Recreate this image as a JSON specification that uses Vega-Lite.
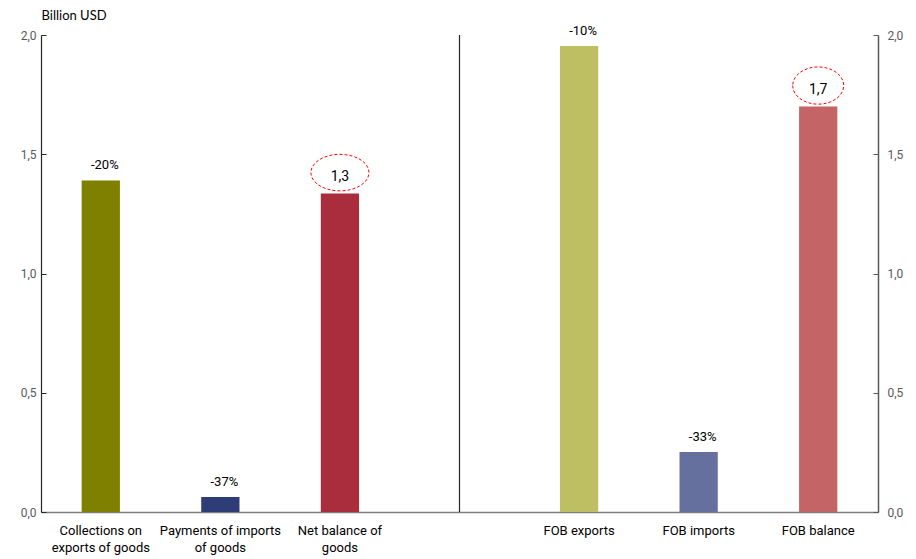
{
  "$schema": "https://vega.github.io/schema/vega-lite/v6.json",
  "width": 837,
  "height": 477,
  "autosize": {"type": "none"},
  "padding": {"left": 41, "top": 35, "right": 38, "bottom": 47},
  "background": "white",
  "data": {
    "values": [
      {"cat": "Collections on exports of goods", "value": 1.39, "label": "-20%", "kind": "pct"},
      {"cat": "Payments of imports of goods", "value": 0.063, "label": "-37%", "kind": "pct"},
      {"cat": "Net balance of goods", "value": 1.335, "label": "1,3", "kind": "val"},
      {"cat": "FOB exports", "value": 1.954, "label": "-10%", "kind": "pct"},
      {"cat": "FOB imports", "value": 0.252, "label": "-33%", "kind": "pct"},
      {"cat": "FOB balance", "value": 1.70, "label": "1,7", "kind": "val"}
    ]
  },
  "config": {
    "view": {"stroke": null},
    "axis": {"grid": false}
  },
  "encoding": {
    "x": {
      "field": "cat",
      "type": "nominal",
      "sort": null,
      "scale": {
        "domain": ["Collections on exports of goods", "Payments of imports of goods", "Net balance of goods", "gap", "FOB exports", "FOB imports", "FOB balance"],
        "paddingInner": 0.68,
        "paddingOuter": 0.34
      },
      "axis": {
        "title": null,
        "labelAngle": 0,
        "ticks": false,
        "domainColor": "#7f7f7f",
        "domainWidth": 1.5,
        "labelColor": "#000000",
        "labelFont": "Roboto",
        "labelFontSize": 13,
        "labelPadding": 18,
        "labelLineHeight": 17,
        "labelBaseline": "middle",
        "labelExpr": "datum.value == 'Collections on exports of goods' ? ['Collections on', 'exports of goods'] : datum.value == 'Payments of imports of goods' ? ['Payments of imports', 'of goods'] : datum.value == 'Net balance of goods' ? ['Net balance of', 'goods'] : datum.value == 'gap' ? '' : datum.value"
      }
    }
  },
  "layer": [
    {
      "mark": {"type": "bar"},
      "encoding": {
        "y": {
          "field": "value",
          "type": "quantitative",
          "scale": {"domain": [0, 2], "nice": false},
          "axis": {
            "orient": "left",
            "values": [0, 0.5, 1, 1.5, 2],
            "labelExpr": "replace(format(datum.value, '.1f'), '.', ',')",
            "domainColor": "#262626",
            "domainWidth": 1.2,
            "tickColor": "#262626",
            "tickSize": -5,
            "labelColor": "#595959",
            "labelFont": "Roboto",
            "labelFontSize": 12,
            "labelPadding": 10,
            "title": "Billion USD",
            "titleAngle": 0,
            "titleAlign": "left",
            "titleBaseline": "middle",
            "titleX": 0,
            "titleY": -20,
            "titleFont": "Lato",
            "titleFontSize": 13,
            "titleFontWeight": "normal",
            "titleColor": "#000000"
          }
        },
        "color": {
          "field": "cat",
          "type": "nominal",
          "legend": null,
          "scale": {
            "domain": ["Collections on exports of goods", "Payments of imports of goods", "Net balance of goods", "FOB exports", "FOB imports", "FOB balance"],
            "range": ["#7f7f00", "#2e3d78", "#a92d3c", "#bdbf62", "#65709e", "#c46467"]
          }
        }
      }
    },
    {
      "transform": [{"filter": "datum.kind == 'pct'"}],
      "mark": {"type": "text", "baseline": "alphabetic", "dy": -11, "dx": 4, "fontSize": 13, "font": "Roboto", "color": "#000000"},
      "encoding": {
        "y": {
          "field": "value",
          "type": "quantitative",
          "axis": {
            "orient": "right",
            "values": [0, 0.5, 1, 1.5, 2],
            "labelExpr": "replace(format(datum.value, '.1f'), '.', ',')",
            "domainColor": "#595959",
            "domainWidth": 1.5,
            "tickColor": "#595959",
            "tickSize": -5,
            "labelColor": "#595959",
            "labelFont": "Roboto",
            "labelFontSize": 12,
            "labelPadding": 14,
            "title": null
          }
        },
        "text": {"field": "label"}
      }
    },
    {
      "transform": [{"filter": "datum.kind == 'val'"}],
      "mark": {"type": "text", "baseline": "middle", "dy": -17, "fontSize": 14, "font": "Roboto", "color": "#000000"},
      "encoding": {
        "y": {"field": "value", "type": "quantitative", "axis": null},
        "text": {"field": "label"}
      }
    },
    {
      "transform": [{"filter": "datum.cat == 'Net balance of goods'"}],
      "mark": {"type": "point", "filled": false, "opacity": 1, "stroke": "#ff0000", "strokeWidth": 1, "strokeDash": [3, 2], "yOffset": -21, "size": 3364, "shape": "M -1 0 A 1 0.63 0 1 0 1 0 A 1 0.63 0 1 0 -1 0 Z"},
      "encoding": {
        "y": {"field": "value", "type": "quantitative", "axis": null}
      }
    },
    {
      "transform": [{"filter": "datum.cat == 'FOB balance'"}],
      "mark": {"type": "point", "filled": false, "opacity": 1, "stroke": "#ff0000", "strokeWidth": 1, "strokeDash": [3, 2], "yOffset": -21, "size": 2601, "shape": "M -1 0 A 1 0.73 0 1 0 1 0 A 1 0.73 0 1 0 -1 0 Z"},
      "encoding": {
        "y": {"field": "value", "type": "quantitative", "axis": null}
      }
    },
    {
      "data": {"values": [{"cat": "gap"}]},
      "mark": {"type": "rule", "color": "#262626", "strokeWidth": 1.2},
      "encoding": {
        "x": {"field": "cat", "type": "nominal", "bandPosition": 0.5}
      }
    }
  ],
  "resolve": {"scale": {"y": "shared"}, "axis": {"y": "independent"}}
}
